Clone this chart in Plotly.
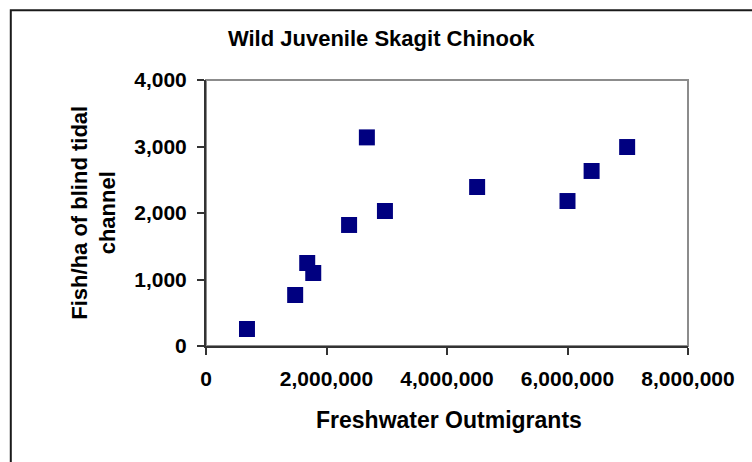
import plotly.graph_objects as go

# values
outmigrants = [680000, 1480000, 1680000, 1780000, 2375000, 2670000,
               2970000, 4500000, 6000000, 6400000, 6990000]
fish_per_ha = [256, 767, 1248, 1098, 1820, 3137, 2030, 2391, 2180, 2632, 2992]

x_ticks = [0, 2000000, 4000000, 6000000, 8000000]
y_ticks = [0, 1000, 2000, 3000, 4000]

FONT = "Arial, Liberation Sans, sans-serif"

fig = go.Figure()
fig.add_trace(go.Scatter(x=outmigrants, y=fish_per_ha,
                         mode='markers',
                         marker_symbol='square',
                         marker_color='#000080',
                         marker_size=16,
                         marker_line_width=0,
                         showlegend=False))

# gray frame round the plot area (top / right edges)
fig.add_shape(type='rect', xref='paper', yref='paper',
              x0=0, y0=0, x1=1, y1=1,
              line=dict(color='#8c8c8c', width=2), layer='below')
# black border round the whole chart
fig.add_shape(type='rect', xref='paper', yref='paper',
              x0=-0.405, y0=-0.47, x1=1.15, y1=1.262,
              line=dict(color='#1a1a1a', width=2), layer='below')

fig.add_annotation(text="Fish/ha of blind tidal<br>channel",
                   xref='paper', yref='paper', x=-0.233, y=0.5,
                   xanchor='center', yanchor='middle',
                   textangle=-90, showarrow=False,
                   font=dict(family=FONT, size=22, color='black', weight='bold'))
fig.add_annotation(text="Freshwater Outmigrants",
                   xref='paper', yref='paper', x=0.505, y=-0.278,
                   xanchor='center', yanchor='middle', showarrow=False,
                   font=dict(family=FONT, size=23, color='black', weight='bold'))

fig.update_layout(width=752, height=462,
                  margin=dict(l=206, r=64, t=80, b=116),
                  paper_bgcolor='white', plot_bgcolor='white',
                  title=dict(text="Wild Juvenile Skagit Chinook",
                             x=0.507, y=0.918, xanchor='center', yanchor='middle',
                             font=dict(family=FONT, size=22, color='black', weight='bold')))

fig.update_xaxes(range=[0, 8000000], tickvals=x_ticks, tickformat=',',
                 showgrid=False, zeroline=False,
                 showline=True, linecolor='#333333', linewidth=2,
                 ticks='outside', ticklen=7, tickcolor='#333333', tickwidth=2,
                 ticklabelstandoff=6,
                 tickfont=dict(family=FONT, size=21, color='black', weight='bold'))
fig.update_yaxes(range=[0, 4000], tickvals=y_ticks, tickformat=',',
                 showgrid=False, zeroline=False,
                 showline=True, linecolor='#333333', linewidth=2,
                 ticks='outside', ticklen=7, tickcolor='#333333', tickwidth=2,
                 ticklabelstandoff=6,
                 tickfont=dict(family=FONT, size=21, color='black', weight='bold'))

fig.write_html("out.html", config={'displayModeBar': False},
               post_script="document.body.style.margin='0';")
